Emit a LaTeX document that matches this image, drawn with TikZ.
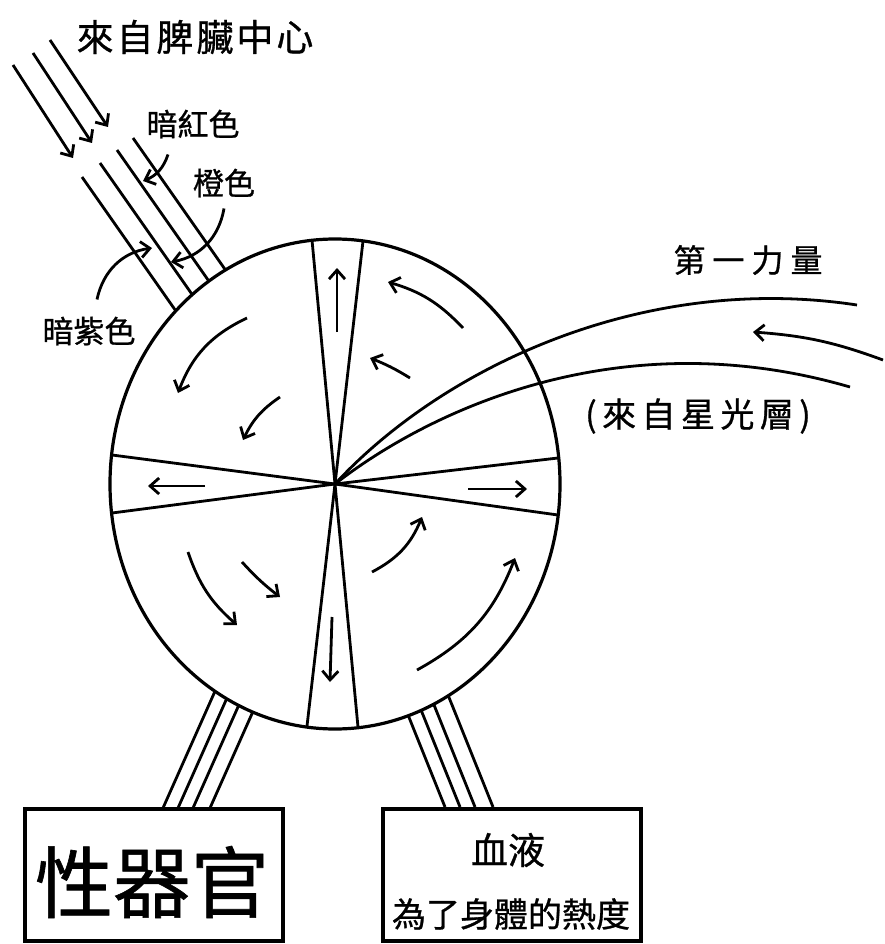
\documentclass[tikz,border=0pt]{standalone}
\usepackage{fontspec}
\setmainfont{Noto Sans CJK TC}[FakeBold=0.8]
\usepackage{tikz}
\usetikzlibrary{arrows.meta}
\usetikzlibrary{positioning}
\tikzset{
  % barbed tips, like the hand drawn ones
  >={Straight Barb[length=9pt,width=16pt]},
  line/.style={draw, ->, line width=2.8pt},
  tube/.style={draw, line width=2.8pt}
}

\begin{document}
\begin{tikzpicture}[x=1pt, y=-1pt]
    % Define styles
    \tikzstyle{lbl} = [inner sep=0pt, font=\fontsize{31}{31}\selectfont]
    \tikzstyle{head} = [inner sep=0pt, font=\fontsize{37}{37}\selectfont]
    \tikzstyle{box} = [draw, rectangle, line width=3.4pt, fill=white, minimum width=258pt, minimum height=132pt, inner sep=0pt, outer sep=0pt]
    \tikzstyle{spoke} = [draw, line width=2.8pt]

    \useasboundingbox (0,0) rectangle (884,944);
    \coordinate (c) at (335,484);

    % Tubes (ends hidden under the disc)
    \draw[tube] (82,177) -- (192,334);
    \draw[tube] (100,163) -- (210,320);
    \draw[tube] (117,150) -- (227,307);
    \draw[tube] (133,138) -- (243,295);
    \draw[tube] (163,808) -- (220,680);
    \draw[tube] (178,808) -- (235,680);
    \draw[tube] (193,808) -- (250,680);
    \draw[tube] (210,808) -- (267,680);
    \draw[tube] (445,807) -- (394,680);
    \draw[tube] (460,807) -- (409,680);
    \draw[tube] (475,807) -- (424,680);
    \draw[tube] (493,807) -- (442,680);

    % The disc and its spokes
    \draw[fill=white, line width=3.2pt] (c) ellipse [x radius=225, y radius=245];
    \foreach \p in {(312,240), (363,241), (307,726), (358,727), (112,455), (112,513), (558,458), (558,515)}
        \draw[spoke] (c) -- \p;

    % Arrows in the narrow sectors
    \draw[line] (337,332) -- (337,268);
    \draw[line] (332,617) -- (330,682);
    \draw[line] (205,486) -- (148,486);
    \draw[line] (468,489) -- (527,489);

    % Swirl arrows
    \draw[line] (247,318) to[bend right=22] (178,393);
    \draw[line] (280,397) to[bend right=15] (243,440);
    \draw[line] (463,328) to[bend right=15] (388,282);
    \draw[line] (410,378) to[bend right=5] (370,358);
    \draw[line] (188,552) to[bend right=15] (237,625);
    \draw[line] (242,562) to[bend right=5] (280,597);
    \draw[line] (417,670) to[bend right=20] (515,558);
    \draw[line] (372,572) to[bend right=20] (422,517);

    % Place nodes
    \node[head] (spleen) at (195,37) {\addfontfeature{LetterSpace=8}來自脾臟中心};
    \node[lbl] (darkred) at (193,124) {暗紅色};
    \node[lbl] (orange) at (224,183) {橙色};
    \node[lbl] (purple) at (89,331) {暗紫色};
    \node[lbl, font=\fontsize{32}{32}\selectfont] (force) at (748,260) {\addfontfeature{LetterSpace=22}第一力量};
    \node[lbl, font=\fontsize{34}{34}\selectfont] (astral) at (698,416) {\addfontfeature{LetterSpace=16}(來自星光層)};
    \node[box] (sexorgan) at (154,875) {};
    \node[inner sep=0pt, font=\fontsize{78}{78}\selectfont] (sexlabel) at (152,882) {性器官};
    \node[box] (blood) at (512,875) {};
    \node[head] (bloodlabel) at ([xshift=-4pt, yshift=25pt]blood.center) {血液};
    \node[inner sep=0pt, font=\fontsize{34}{34}\selectfont] (heat) at ([xshift=-1pt, yshift=-39pt]blood.center) {為了身體的熱度};

    % Incoming currents
    \draw[line] (13,65) -- (73,158);
    \draw[line] (33,53) -- (92,143);
    \draw[line] (50,40) -- (108,127);

    % Pointers from the colour labels
    \coordinate (redtip) at (143,181);
    \coordinate (orangetip) at (171,262);
    \coordinate (purpletip) at (152,248);
    \draw[line] ([xshift=-25pt, yshift=-16pt]darkred.south) to[bend left=25] (redtip);
    \draw[line] ([yshift=-11pt]orange.south) to[bend left=35] (orangetip);
    \draw[line] ([xshift=8pt, yshift=17pt]purple.north) to[bend left=35] (purpletip);

    % Primary force from the astral plane
    \coordinate (edgeA) at (857,305);
    \coordinate (edgeB) at (850,387);
    \coordinate (forcein) at (883,360);
    \coordinate (forcetip) at (753,332);
    \draw[spoke] (c) .. controls (440,370) and (640,272) .. (edgeA);
    \draw[spoke] (c) .. controls (430,410) and (620,320) .. (edgeB);
    \draw[line] (forcein) to[bend right=8] (forcetip);
\end{tikzpicture}
\end{document}
